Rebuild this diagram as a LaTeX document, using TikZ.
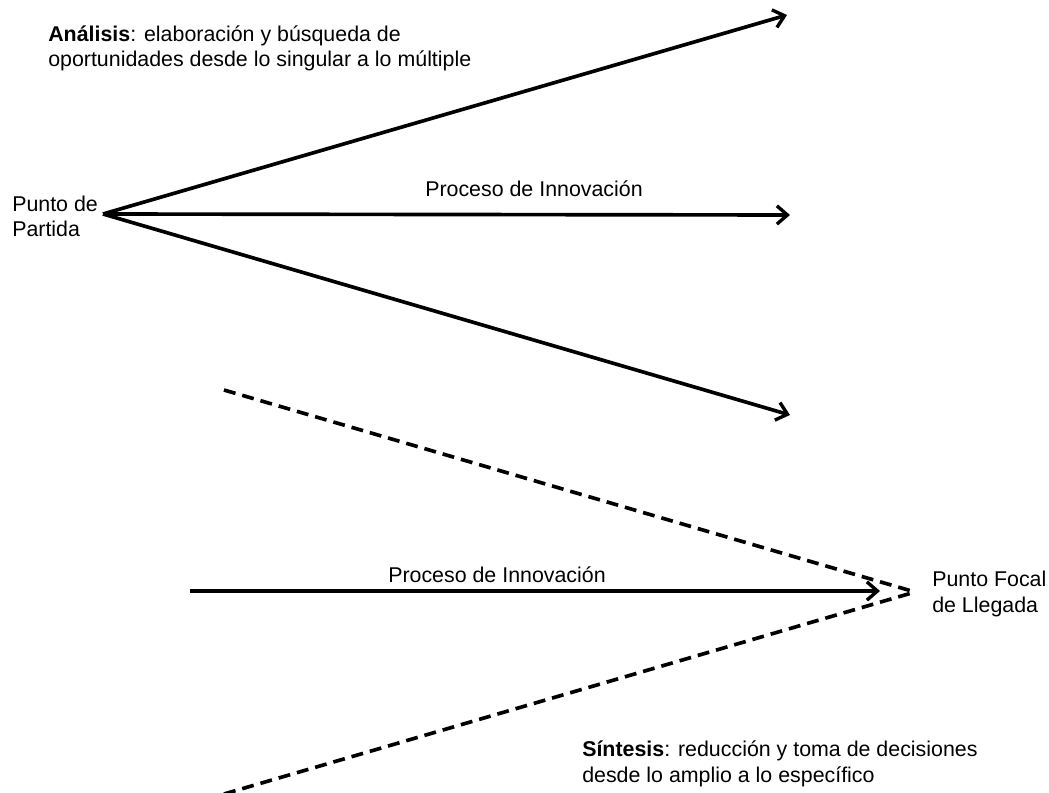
\documentclass[tikz,border=0pt]{standalone}
\usepackage{fontspec}
\setmainfont{Liberation Sans}
\usetikzlibrary{arrows.meta}
\usetikzlibrary{positioning}

\tikzset{
    label/.style={font=\fontsize{15.2pt}{17.8pt}\selectfont, align=left, inner sep=0pt, anchor=base west},
    flow/.style={line width=2.6pt, -{Straight Barb[length=7.5pt,width=13pt,line width=2.4pt]}},
    fade/.style={line width=2.6pt, dash pattern=on 8.5pt off 5pt}
}

\begin{document}
\begin{tikzpicture}[x=0.025cm, y=-0.025cm]
    \useasboundingbox (0,0) rectangle (1049,793);

    % Start and end points
    \coordinate (partida) at (103,214);
    \coordinate (llegada) at (915,592);

    % Tips of the analysis arrows
    \coordinate (tipUp) at (787,15);
    \coordinate (tipMid) at (790,215);
    \coordinate (tipDown) at (790,415);

    % Ends of the synthesis lines
    \coordinate (dashUp) at (224,390);
    \coordinate (dashDown) at (224,794);
    \coordinate (lowStart) at (190,591);
    \coordinate (lowTip) at (880,591);

    % Labels (base = last line)
    \node[label] (analisis) at (48,67) {\textbf{Análisis}: elaboración y búsqueda de\\oportunidades desde lo singular a lo múltiple};
    \node[label] (puntoPartida) at (12,237) {Punto de\\Partida};
    \node[label] (procesoUp) at (425,197) {Proceso de Innovación};
    \node[label] (procesoLow) at (388,582) {Proceso de Innovación};
    \node[label] (puntoFocal) at (932,612) {Punto Focal\\de Llegada};
    \node[label] (sintesis) at (582,782) {\textbf{Síntesis}: reducción y toma de decisiones\\desde lo amplio a lo específico};

    % Analysis: from one point to many
    \draw[flow] (partida) -- (tipUp);
    \draw[flow] (partida) -- (tipMid);
    \draw[flow] (partida) -- (tipDown);

    % Synthesis: from many to one point
    \draw[fade] (dashUp) -- (llegada);
    \draw[fade] (dashDown) -- (llegada);
    \draw[flow] (lowStart) -- (lowTip);

\end{tikzpicture}
\end{document}
